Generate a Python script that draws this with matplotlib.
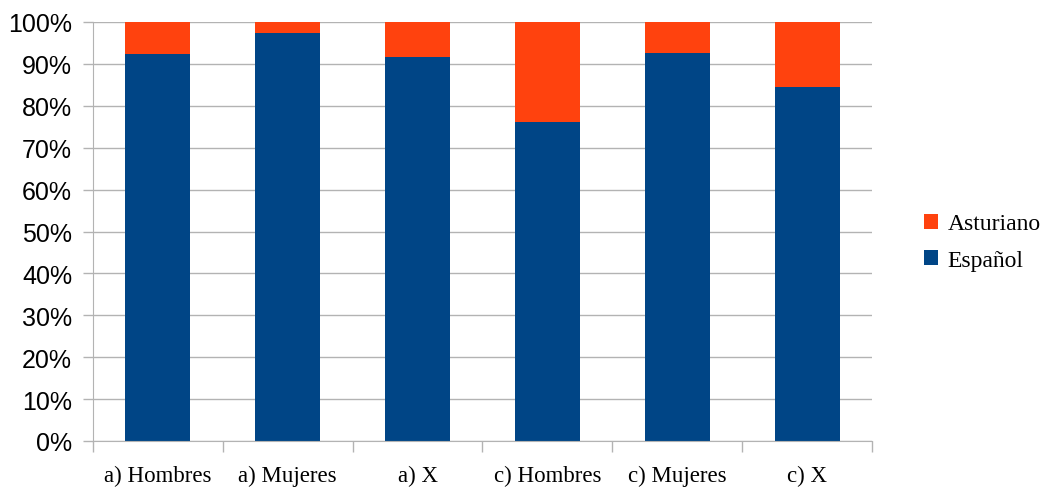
import matplotlib.pyplot as plt
import numpy as np
from matplotlib.ticker import PercentFormatter

# datos (porcentaje)
categorias = ["a) Hombres", "a) Mujeres", "a) X", "c) Hombres", "c) Mujeres", "c) X"]
espanol = [92.4, 97.4, 91.6, 76.1, 92.6, 84.5]
asturiano = [100 - v for v in espanol]

azul = "#004586"
naranja = "#ff420e"
gris = "#b3b3b3"

fig = plt.figure(figsize=(10.42, 4.89), dpi=100)
ax = fig.add_axes([93 / 1042, 47 / 489, 779 / 1042, 419 / 489])

x = np.arange(len(categorias))
b1 = ax.bar(x, espanol, width=0.5, color=azul, label="Español", zorder=2)
b2 = ax.bar(x, asturiano, width=0.5, bottom=espanol, color=naranja, label="Asturiano", zorder=2)

ax.set_xlim(-0.5, len(categorias) - 0.5)
ax.set_ylim(0, 100)
ax.set_yticks(np.arange(0, 101, 10))
ax.yaxis.set_major_formatter(PercentFormatter(decimals=0))
ax.grid(axis="y", color=gris, linewidth=1, zorder=0)

ax.set_xticks(x)
ax.set_xticklabels(categorias, family="Liberation Serif", fontsize=16.5)
ax.set_xticks(np.arange(-0.5, len(categorias)), minor=True)
ax.tick_params(axis="x", which="major", length=0, pad=17)
ax.tick_params(axis="x", which="minor", length=8, color=gris, width=1)
ax.tick_params(axis="y", length=7, color=gris, width=1, pad=8)
for lab in ax.get_yticklabels():
    lab.set_family("Liberation Sans")
    lab.set_fontsize(18)

for s in ["top", "right"]:
    ax.spines[s].set_visible(False)
for s in ["left", "bottom"]:
    ax.spines[s].set_color(gris)

fig.legend([b2, b1], ["Asturiano", "Español"], loc="center left",
           bbox_to_anchor=(924 / 1042, 246 / 489), frameon=False,
           borderpad=0, borderaxespad=0,
           prop={"family": "Liberation Serif", "size": 17},
           handlelength=0.6, handleheight=0.6, handletextpad=0.4, labelspacing=0.65)

plt.savefig("out.png", dpi=100)
